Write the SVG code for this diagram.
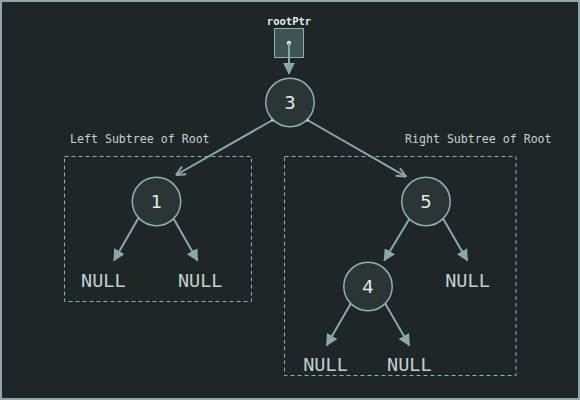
<svg xmlns="http://www.w3.org/2000/svg" width="580" height="400" viewBox="0 0 580 400">
<defs>
<style>
.bg{fill:#1e2628;stroke:#8fa9a6;stroke-width:2}
.node circle{fill:#2a3536;stroke:#8fb3ad;stroke-width:1.5}
.node text{font-family:"DejaVu Sans",sans-serif;font-size:18px;fill:#e2ebe9;text-anchor:middle}
.null{font-family:"DejaVu Sans Mono",monospace;font-size:18.5px;fill:#c3cfcd;text-anchor:middle}
.lbl{font-family:"DejaVu Sans Mono",monospace;font-size:11.6px;fill:#c5d1cf}
.sub{fill:none;stroke:#8fb0ab;stroke-width:1;stroke-dasharray:4,3}
.edge{stroke:#8aa9a5;stroke-width:2;fill:none}
</style>
<marker id="open" viewBox="0 0 10 10" refX="9.5" refY="5" markerWidth="11" markerHeight="11" markerUnits="userSpaceOnUse" orient="auto">
<path d="M1,1 L9.5,5 L1,9" fill="none" stroke="#8aa9a5" stroke-width="1.8"/>
</marker>
<marker id="fill" viewBox="0 0 10 10" refX="9" refY="5" markerWidth="12" markerHeight="12" markerUnits="userSpaceOnUse" orient="auto">
<path d="M0,0 L10,5 L0,10 z" fill="#8aa9a5"/>
</marker>
</defs>
<rect class="bg" x="1" y="1" width="578" height="398"/>

<g id="subtrees">
<rect class="sub" x="64.5" y="156.5" width="187" height="145"/>
<text class="lbl" x="70" y="143">Left Subtree of Root</text>
<rect class="sub" x="284.5" y="156.5" width="231.5" height="219"/>
<text class="lbl" x="405" y="143">Right Subtree of Root</text>
</g>

<g id="rootPtr">
<text x="289" y="25" style="font-family:'DejaVu Sans Mono',monospace;font-size:10.5px;font-weight:bold;fill:#e2ebe9;text-anchor:middle">rootPtr</text>
<rect x="274.5" y="28.5" width="29" height="29" fill="#3e5452" stroke="#8fb0ab" stroke-width="1"/>
</g>

<g id="connectors">
<circle cx="289" cy="43" r="2.2" fill="#dfe8e6"/>
<line class="edge" x1="289" y1="43" x2="289" y2="73.5" marker-end="url(#fill)"/>
<line class="edge" x1="272.7" y1="120" x2="176" y2="175" marker-end="url(#open)"/>
<line class="edge" x1="307.3" y1="120" x2="406" y2="176.7" marker-end="url(#open)"/>
<circle cx="272.7" cy="120" r="1.6" fill="#e6eeec"/>
<circle cx="307.3" cy="120" r="1.6" fill="#e6eeec"/>
<line class="edge" x1="138.3" y1="218.3" x2="114" y2="260.5" marker-end="url(#fill)"/>
<line class="edge" x1="173.3" y1="218.3" x2="197.5" y2="260.5" marker-end="url(#fill)"/>
<line class="edge" x1="409.3" y1="219" x2="384.3" y2="260.5" marker-end="url(#fill)"/>
<line class="edge" x1="443.3" y1="219" x2="467.3" y2="260.5" marker-end="url(#fill)"/>
<line class="edge" x1="351" y1="303.3" x2="326.7" y2="345.3" marker-end="url(#fill)"/>
<line class="edge" x1="385" y1="303.3" x2="409.3" y2="345.3" marker-end="url(#fill)"/>
</g>

<g id="node3" class="node"><circle cx="290" cy="102.5" r="24.2"/><text x="290" y="109">3</text></g>
<g id="node1" class="node"><circle cx="156.5" cy="201.5" r="24.2"/><text x="156.5" y="208">1</text></g>
<g id="node5" class="node"><circle cx="426" cy="201.5" r="24.2"/><text x="426" y="208">5</text></g>
<g id="node4" class="node"><circle cx="368" cy="286.5" r="24.2"/><text x="368" y="293">4</text></g>

<g id="nulls">
<text class="null" x="103.3" y="287">NULL</text>
<text class="null" x="200.2" y="287">NULL</text>
<text class="null" x="467.5" y="287.3">NULL</text>
<text class="null" x="325.5" y="370.7">NULL</text>
<text class="null" x="409.3" y="370.7">NULL</text>
</g>
</svg>
